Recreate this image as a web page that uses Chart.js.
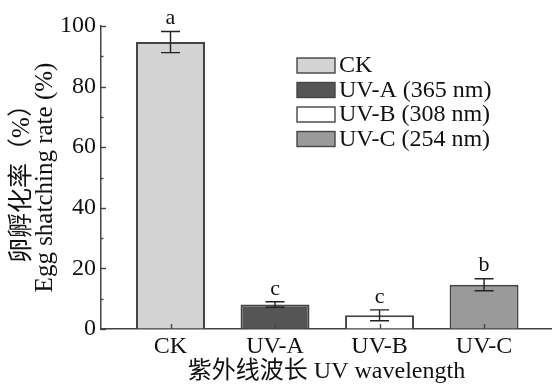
<!DOCTYPE html>
<html>
<head>
<meta charset="utf-8">
<script src="https://cdn.jsdelivr.net/npm/chart.js@4.4.0/dist/chart.umd.min.js"></script>
<style>
  body { margin: 0; background: #fff; }
  #wrap { width: 552px; height: 390px; }
</style>
</head>
<body>
<div id="wrap"><canvas id="chart"></canvas></div>
<script>
const categories = ['CK', 'UV-A', 'UV-B', 'UV-C'];
const legendLabels = ['CK', 'UV-A (365 nm)', 'UV-B (308 nm)', 'UV-C (254 nm)'];
const hatchRate = [94.7, 8.1, 4.5, 14.6];
const hatchErr = [3.5, 0.9, 1.8, 2.0];
const sigLetters = ['a', 'c', 'c', 'b'];
const yTicks = [0, 20, 40, 60, 80, 100];
const yMinorTicks = [10, 30, 50, 70, 90];

const barColors = ['#d3d3d3', '#555555', '#ffffff', '#9a9a9a'];
const ink = '#444444';
const serif = '"Liberation Serif", "Noto Sans CJK SC", serif';

// error bars, letters, inward ticks, legend
const extras = {
  id: 'extras',
  afterDatasetsDraw(chart) {
    const ctx = chart.ctx;
    const x = chart.scales.x, y = chart.scales.y;
    const area = chart.chartArea;
    ctx.save();
    ctx.strokeStyle = ink;
    ctx.lineWidth = 1.4;

    // ticks pointing into the plot
    yTicks.forEach(v => {
      const py = Math.round(y.getPixelForValue(v)) + 0.5;
      ctx.beginPath(); ctx.moveTo(area.left, py); ctx.lineTo(area.left + 5, py); ctx.stroke();
    });
    yMinorTicks.forEach(v => {
      const py = Math.round(y.getPixelForValue(v)) + 0.5;
      ctx.beginPath(); ctx.moveTo(area.left, py); ctx.lineTo(area.left + 2.5, py); ctx.stroke();
    });
    categories.forEach((c, i) => {
      const px = Math.round(x.getPixelForValue(i + 1)) + 0.5;
      ctx.beginPath(); ctx.moveTo(px, area.bottom); ctx.lineTo(px, area.bottom - 5); ctx.stroke();
    });

    // error bars + letters
    ctx.strokeStyle = '#222';
    ctx.font = '22px ' + serif;
    ctx.fillStyle = '#111';
    ctx.textAlign = 'center';
    ctx.textBaseline = 'bottom';
    hatchRate.forEach((v, i) => {
      const px = x.getPixelForValue(i + 1);
      const top = y.getPixelForValue(v + hatchErr[i]);
      const bot = y.getPixelForValue(v - hatchErr[i]);
      ctx.beginPath();
      ctx.moveTo(px, top); ctx.lineTo(px, bot);
      ctx.moveTo(px - 9.5, top); ctx.lineTo(px + 9.5, top);
      ctx.moveTo(px - 9.5, bot); ctx.lineTo(px + 9.5, bot);
      ctx.stroke();
      ctx.fillText(sigLetters[i], px, top - 2);
    });

    // legend
    ctx.strokeStyle = ink;
    ctx.textAlign = 'left';
    ctx.textBaseline = 'middle';
    ctx.font = '24px ' + serif;
    legendLabels.forEach((lab, i) => {
      const ty = 58 + i * 24.5;
      ctx.fillStyle = barColors[i];
      ctx.fillRect(297, ty, 38, 15);
      ctx.strokeRect(297, ty, 38, 15);
      ctx.fillStyle = '#111';
      ctx.fillText(lab, 339, ty + 8);
    });
    ctx.restore();
  }
};

new Chart(document.getElementById('chart'), {
  type: 'bar',
  data: {
    datasets: [{
      data: hatchRate.map((v, i) => ({ x: i + 1, y: v })),
      backgroundColor: barColors,
      borderColor: ink,
      borderWidth: 2,
      barPercentage: 0.66,
      categoryPercentage: 1
    }]
  },
  options: {
    responsive: true,
    maintainAspectRatio: false,
    animation: false,
    layout: { padding: { top: 26, right: 0, left: 0, bottom: 0 } },
    plugins: { legend: { display: false }, tooltip: { enabled: false } },
    scales: {
      x: {
        type: 'linear',
        offset: false,
        min: 0.335,
        max: 4.65,
        afterBuildTicks: s => { s.ticks = categories.map((c, i) => ({ value: i + 1 })); },
        afterFit: s => { s.height = 61; },
        grid: { drawOnChartArea: false, drawTicks: false },
        border: { color: ink, width: 1.5 },
        ticks: {
          padding: 3,
          color: '#111',
          font: { family: serif, size: 24 },
          callback: v => categories[v - 1]
        },
        title: {
          display: true,
          text: '紫外线波长 UV wavelength',
          color: '#111',
          font: { family: serif, size: 24, lineHeight: 1 },
          padding: { top: 0, bottom: 6 }
        }
      },
      y: {
        min: 0,
        max: 100,
        afterBuildTicks: s => { s.ticks = yTicks.map(v => ({ value: v })); },
        afterFit: s => { s.width = 101; },
        grid: { drawOnChartArea: false, drawTicks: false },
        border: { color: ink, width: 1.5 },
        ticks: {
          padding: 5,
          color: '#111',
          font: { family: serif, size: 24 }
        },
        title: {
          display: true,
          text: ['卵孵化率（%）', 'Egg shatching rate (%)'],
          color: '#111',
          font: { family: serif, size: 25, lineHeight: 0.92 },
          padding: { top: 11, bottom: 0 }
        }
      }
    }
  },
  plugins: [extras]
});
</script>
</body>
</html>
